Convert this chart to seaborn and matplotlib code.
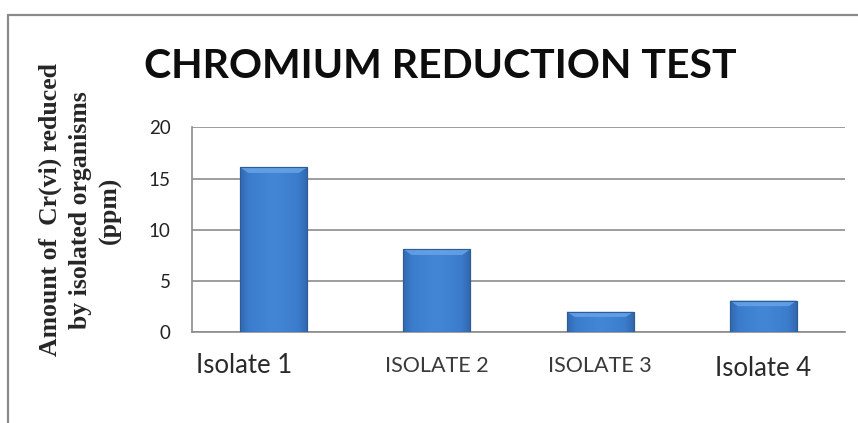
import numpy as np
import pandas as pd
import matplotlib
matplotlib.use("Agg")
import matplotlib.pyplot as plt
from matplotlib.lines import Line2D
import matplotlib.transforms as mtransforms
from matplotlib.colors import LinearSegmentedColormap
import seaborn as sns

categories = ["Isolate 1", "ISOLATE 2", "ISOLATE 3", "Isolate 4"]
values = [16.1, 8.1, 2.0, 3.1]
yticks = [0, 5, 10, 15, 20]
title = "CHROMIUM REDUCTION TEST"
ylabel = "Amount of  Cr(vi) reduced\nby isolated organisms\n(ppm)"

sns.set_theme(style="white")
plt.rcParams["font.family"] = ["Lato", "DejaVu Sans"]

fig = plt.figure(figsize=(8.58, 4.23), dpi=100)
ax = fig.add_axes([192/858, 1-332.3/423, 653/858, 205/423])

df = pd.DataFrame({"cat": categories, "val": values})
sns.barplot(data=df, x="cat", y="val", ax=ax, color="#3d7dcc", width=0.41,
            saturation=1, edgecolor="#2d5c98", linewidth=0.8, zorder=3)

# gradient shading clipped to each bar
grad = np.linspace(0, 1, 64)
prof = 1 - 0.55 * np.abs(grad - 0.5) ** 1.5 * 2.2
cmap = LinearSegmentedColormap.from_list("b", ["#2a5a99", "#3b7bcb", "#4386d6"])
for p in list(ax.patches):
    x0, y0 = p.get_x(), p.get_y()
    w, h = p.get_width(), p.get_height()
    img = np.tile(prof, (8, 1))
    im = ax.imshow(img, extent=[x0, x0 + w, y0, y0 + h], aspect="auto",
                   cmap=cmap, vmin=0.45, vmax=1.0, zorder=3.5, origin="lower")
    im.set_clip_path(p)
    top = min(0.55, h * 0.25)
    ax.fill([x0, x0 + w, x0 + w - w * 0.12, x0 + w * 0.12],
            [y0 + h, y0 + h, y0 + h - top, y0 + h - top],
            color="#67a3e6", alpha=0.85, zorder=3.6, lw=0)
    ax.add_patch(plt.Rectangle((x0, y0), w, h, fill=False, ec="#2d5c98", lw=0.8, zorder=3.7))

ax.set_ylim(0, 20)
ax.set_xlim(-0.5, len(categories) - 0.5)
ax.set_yticks(yticks)
ax.yaxis.grid(True, color="#8c8c8c", lw=1.2, zorder=0)
ax.set_axisbelow(True)
for s in ["top", "right"]:
    ax.spines[s].set_visible(False)
for s in ["left", "bottom"]:
    ax.spines[s].set_color("#8c8c8c")
    ax.spines[s].set_linewidth(1.2)
ax.tick_params(axis="y", length=6.5, width=1.2, color="#8c8c8c", pad=9,
               labelsize=13.5, labelcolor="#222222")
ax.tick_params(axis="x", length=0, pad=17, labelcolor="#333333")
ax.set_xlabel("")
for i, lab in enumerate(ax.get_xticklabels()):
    if lab.get_text().startswith("Isolate"):
        lab.set_fontsize(18.5)
        lab.set_color("#2a2a2a")
    else:
        lab.set_fontsize(15.5)
        lab.set_color("#3a3a3a")
first = ax.get_xticklabels()[0]
first.set_transform(first.get_transform() + mtransforms.ScaledTranslation(-29/100, 3/100, fig.dpi_scale_trans))

ax.set_ylabel(ylabel, family=["Liberation Serif"], fontweight="bold", fontsize=18.5,
              linespacing=1.38, ha="center", va="center", multialignment="center")
ax.yaxis.set_label_coords(-0.171, 0.597)

fig.text((143+738)/2/858, 1-66/423, title, ha="center", va="center",
         fontsize=29.5, fontweight="bold", color="#0d0d0d")

fig.add_artist(Line2D([8/858, 1.0], [1-15/423, 1-15/423], transform=fig.transFigure,
                      color="#8a8a8a", lw=1.6))
fig.add_artist(Line2D([8/858, 8/858], [0, 1-15/423], transform=fig.transFigure,
                      color="#8a8a8a", lw=1.6))

fig.savefig("out.png", dpi=100, facecolor="white")
